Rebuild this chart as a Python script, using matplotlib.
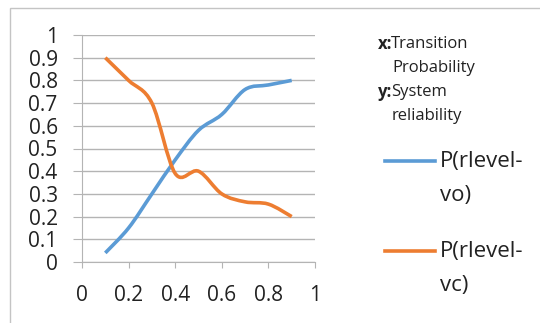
import matplotlib.pyplot as plt
from matplotlib.path import Path
from matplotlib.patches import PathPatch, Rectangle
from matplotlib.lines import Line2D

plt.rcParams['font.family'] = ['Open Sans', 'DejaVu Sans']

x = [0.1, 0.2, 0.3, 0.4, 0.5, 0.6, 0.7, 0.8, 0.9]
p_vo = [0.04, 0.15, 0.30, 0.45, 0.58, 0.65, 0.76, 0.78, 0.80]
p_vc = [0.90, 0.80, 0.70, 0.39, 0.40, 0.30, 0.265, 0.255, 0.20]
labels = ['P(rlevel-\nvo)', 'P(rlevel-\nvc)']
colors = ['#5B9BD5', '#ED7D31']
ticks_x = [0, 0.2, 0.4, 0.6, 0.8, 1]
ticks_y = [0, 0.1, 0.2, 0.3, 0.4, 0.5, 0.6, 0.7, 0.8, 0.9, 1]
grid_c = '#b4b4b4'
txt_c = '#222222'


def smooth_path(xs, ys):
    # excel style smoothed line: cubic bezier through the points
    pts = list(zip(xs, ys))
    n = len(pts)
    verts = [pts[0]]
    codes = [Path.MOVETO]
    for i in range(n - 1):
        p0 = pts[max(i - 1, 0)]
        p1 = pts[i]
        p2 = pts[i + 1]
        p3 = pts[min(i + 2, n - 1)]
        c1 = (p1[0] + (p2[0] - p0[0]) / 6, p1[1] + (p2[1] - p0[1]) / 6)
        c2 = (p2[0] - (p3[0] - p1[0]) / 6, p2[1] - (p3[1] - p1[1]) / 6)
        verts += [c1, c2, p2]
        codes += [Path.CURVE4] * 3
    return Path(verts, codes)


W, H = 540, 323
fig = plt.figure(figsize=(W / 100, H / 100), dpi=100)
ax = fig.add_axes([82 / W, 1 - 262 / H, (315 - 82) / W, (262 - 35) / H])

for ys, c in zip([p_vo, p_vc], colors):
    ax.add_patch(PathPatch(smooth_path(x, ys), fill=False, edgecolor=c,
                           lw=2.6, capstyle='butt', zorder=3))

ax.set_xlim(0, 1)
ax.set_ylim(0, 1)
ax.set_xticks(ticks_x)
ax.set_xticklabels(['0', '0.2', '0.4', '0.6', '0.8', '1'])
ax.set_yticks(ticks_y)
ax.set_yticklabels(['0', '0.1', '0.2', '0.3', '0.4', '0.5', '0.6', '0.7', '0.8', '0.9', '1'])
ax.yaxis.grid(True, color=grid_c, lw=1)
for s in ['top', 'right']:
    ax.spines[s].set_visible(False)
for s in ['left', 'bottom']:
    ax.spines[s].set_color(grid_c)
ax.tick_params(axis='y', length=6.5, color=grid_c, labelsize=15, pad=11, labelcolor=txt_c)
ax.tick_params(axis='x', length=4.5, color=grid_c, labelsize=15, pad=12, labelcolor=txt_c)

# outer chart border
fig.add_artist(Rectangle((10 / W, -0.1), 2, 1 - 7.5 / H + 0.1, transform=fig.transFigure,
                         fill=False, edgecolor='#c4c4c4', lw=1))

# axis description, bold prefix then normal text
fs = 12
renderer = fig.canvas.get_renderer()
for pre, rest, cont, yp in [('x:', 'Transition', 'Probability', 44),
                            ('y:', 'System', 'reliability', 92)]:
    t = fig.text(378 / W, 1 - yp / H, pre, fontsize=fs, fontweight='bold', va='center', color=txt_c)
    bb = t.get_window_extent(renderer)
    fig.text((bb.x1 - 1.5) / W, 1 - yp / H, rest, fontsize=fs, va='center', color=txt_c)
    fig.text(392 / W, 1 - (yp + 23.5) / H, cont, fontsize=fs, va='center', color=txt_c)

# legend
for lab, c, yp in zip(labels, colors, [161, 251]):
    fig.add_artist(Line2D([385 / W, 435 / W], [1 - yp / H, 1 - yp / H], color=c, lw=2.6,
                          transform=fig.transFigure))
    first, second = lab.split('\n')
    fig.text(440 / W, 1 - yp / H, first, fontsize=16, va='center', color=txt_c)
    fig.text(440 / W, 1 - (yp + 35) / H, second, fontsize=16, va='center', color=txt_c)

fig.savefig('out.png', dpi=100)
